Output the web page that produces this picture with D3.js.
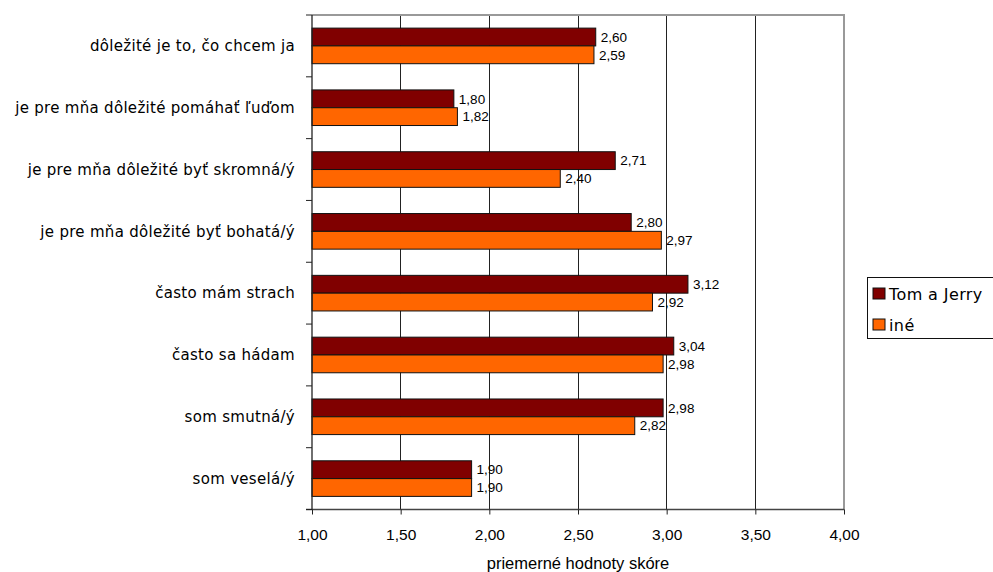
<!DOCTYPE html>
<html>
<head>
<meta charset="utf-8">
<script src="https://cdn.jsdelivr.net/npm/d3@7"></script>
<style>
  html, body { margin: 0; padding: 0; background: #fff; }
  svg { display: block; }
</style>
</head>
<body>
<script>
const categories = [
  "dôležité je to, čo chcem ja",
  "je pre mňa dôležité pomáhať ľuďom",
  "je pre mňa dôležité byť skromná/ý",
  "je pre mňa dôležité byť bohatá/ý",
  "často mám strach",
  "často sa hádam",
  "som smutná/ý",
  "som veselá/ý"
];
const seriesNames = ["Tom a Jerry", "iné"];
const tomJerry = [2.60, 1.80, 2.71, 2.80, 3.12, 3.04, 2.98, 1.90];
const ine      = [2.59, 1.82, 2.40, 2.97, 2.92, 2.98, 2.82, 1.90];
const xTicks = [1.00, 1.50, 2.00, 2.50, 3.00, 3.50, 4.00];
const xTitle = "priemerné hodnoty skóre";
const colors = ["#800000", "#FF6600"];

const W = 993, H = 572;
const plot = { left: 312, right: 844, top: 15, bottom: 509.5 };
const labelFont = "'DejaVu Sans', sans-serif";
const numFont = "Arial, 'Liberation Sans', sans-serif";

const svg = d3.select("body").append("svg").attr("width", W).attr("height", H);

const x = d3.scaleLinear().domain([1, 4]).range([plot.left, plot.right]);
const y = d3.scaleBand().domain(categories).range([plot.top, plot.bottom]).padding(0);
const barH = y.bandwidth() * 0.288;

const fmt = v => d3.format(".2f")(v).replace(".", ",");

// grid lines
svg.append("g").selectAll("line").data(xTicks.slice(1, -1)).join("line")
  .attr("x1", d => x(d)).attr("x2", d => x(d))
  .attr("y1", plot.top).attr("y2", plot.bottom)
  .attr("stroke", "#222").attr("stroke-width", 1).attr("shape-rendering", "crispEdges");

// top & right border
svg.append("path")
  .attr("d", `M${plot.left},${plot.top}H${plot.right}V${plot.bottom}`)
  .attr("fill", "none").attr("stroke", "#999").attr("stroke-width", 1.2)
  .attr("shape-rendering", "crispEdges");

const data = categories.map((c, i) => ({ c, vals: [tomJerry[i], ine[i]] }));

const groups = svg.append("g").selectAll("g").data(data).join("g")
  .attr("transform", d => `translate(0,${y(d.c) + y.bandwidth() / 2 - barH})`);

groups.selectAll("rect").data(d => d.vals).join("rect")
  .attr("x", x(1))
  .attr("y", (d, i) => i * barH)
  .attr("width", d => x(d) - x(1))
  .attr("height", barH)
  .attr("fill", (d, i) => colors[i])
  .attr("stroke", "#111").attr("stroke-width", 1);

groups.selectAll("text").data(d => d.vals).join("text")
  .attr("x", d => x(d) + 5)
  .attr("y", (d, i) => i * barH + barH / 2)
  .attr("dy", "0.35em")
  .attr("font-family", numFont).attr("font-size", 13.5)
  .attr("fill", "#000")
  .text(d => fmt(d));

// x axis
const xAxis = d3.axisBottom(x).tickValues(xTicks).tickFormat(fmt).tickSize(5).tickSizeOuter(0);
const gx = svg.append("g").attr("transform", `translate(0,${plot.bottom})`).call(xAxis);
gx.select(".domain").attr("stroke", "#444").attr("stroke-width", 1.3)
  .attr("d", `M${plot.left - 6},0H${plot.right}`);
gx.selectAll(".tick line").attr("stroke", "#222");
gx.selectAll(".tick text").attr("font-family", numFont).attr("font-size", 15.5)
  .attr("fill", "#000").attr("y", 25.5).attr("dy", "0.35em");

// y axis with ticks at band boundaries
const boundaries = categories.map(c => y(c)).concat([plot.bottom]);
svg.append("line").attr("x1", plot.left).attr("x2", plot.left)
  .attr("y1", plot.top).attr("y2", plot.bottom)
  .attr("stroke", "#222").attr("stroke-width", 1.3);
svg.append("g").selectAll("line").data(boundaries).join("line")
  .attr("x1", plot.left - 6).attr("x2", plot.left)
  .attr("y1", d => d).attr("y2", d => d)
  .attr("stroke", "#222").attr("stroke-width", 1);

svg.append("g").selectAll("text").data(categories).join("text")
  .attr("x", 295)
  .attr("y", d => y(d) + y.bandwidth() / 2)
  .attr("dy", "0.35em")
  .attr("text-anchor", "end")
  .attr("font-family", labelFont).attr("font-size", 15)
  .attr("letter-spacing", 0.3)
  .attr("fill", "#000")
  .text(d => d);

// x title
svg.append("text")
  .attr("x", (plot.left + plot.right) / 2)
  .attr("y", 563)
  .attr("dy", "0.35em")
  .attr("text-anchor", "middle")
  .attr("font-family", numFont).attr("font-size", 16.5)
  .text(xTitle);

// legend
const lg = svg.append("g");
lg.append("rect").attr("x", 867.5).attr("y", 277.5).attr("width", 140).attr("height", 61)
  .attr("fill", "#fff").attr("stroke", "#111").attr("stroke-width", 1);
const li = lg.selectAll("g").data(seriesNames).join("g")
  .attr("transform", (d, i) => `translate(873,${288 + i * 31})`);
li.append("rect").attr("width", 12).attr("height", 11)
  .attr("fill", (d, i) => colors[i]).attr("stroke", "#111").attr("stroke-width", 1);
li.append("text").attr("x", 16).attr("y", 6).attr("dy", "0.35em")
  .attr("font-family", labelFont).attr("font-size", 16).attr("letter-spacing", 0.4)
  .text(d => d);
</script>
</body>
</html>
